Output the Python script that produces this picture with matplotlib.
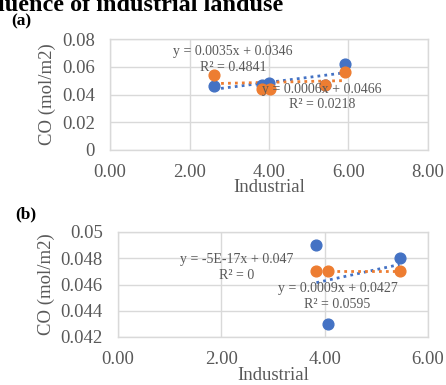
import matplotlib
matplotlib.use("Agg")
import matplotlib.pyplot as plt
import numpy as np

plt.rcParams['font.family'] = ['Liberation Serif', 'DejaVu Serif']

# Panel (a) data
a_blue_x = [2.62, 3.82, 4.00, 5.40, 5.92]
a_blue_y = [0.046, 0.047, 0.048, 0.047, 0.0622]
a_orange_x = [2.62, 3.82, 4.02, 5.40, 5.92]
a_orange_y = [0.054, 0.044, 0.044, 0.047, 0.056]
a_xticks = [0, 2, 4, 6, 8]
a_yticks = [0, 0.02, 0.04, 0.06, 0.08]
a_ytick_labels = ["0", "0.02", "0.04", "0.06", "0.08"]
a_blue_eq = "y = 0.0035x + 0.0346\nR² = 0.4841"
a_orange_eq = "y = 0.0006x + 0.0466\nR² = 0.0218"

# Panel (b) data
b_blue_x = [3.84, 4.07, 5.45]
b_blue_y = [0.049, 0.043, 0.048]
b_orange_x = [3.84, 4.07, 5.45]
b_orange_y = [0.047, 0.047, 0.047]
b_xticks = [0, 2, 4, 6]
b_yticks = [0.042, 0.044, 0.046, 0.048, 0.05]
b_ytick_labels = ["0.042", "0.044", "0.046", "0.048", "0.05"]
b_orange_eq = "y = -5E-17x + 0.047\nR² = 0"
b_blue_eq = "y = 0.0009x + 0.0427\nR² = 0.0595"

BLUE = "#4472C4"
ORANGE = "#ED7D31"
GRID = "#D9D9D9"
TXT = "#595959"

W, H = 446, 385
fig = plt.figure(figsize=(W / 100, H / 100), dpi=100)


def px_axes(l, t, r, b):
    return fig.add_axes([l / W, 1 - b / H, (r - l) / W, (b - t) / H])


def style(ax, xticks, yticks, ylabels):
    ax.set_xticks(xticks)
    ax.set_xticklabels([f"{v:.2f}" for v in xticks])
    ax.set_yticks(yticks)
    ax.set_yticklabels(ylabels)
    ax.set_xlim(xticks[0], xticks[-1])
    ax.set_ylim(yticks[0], yticks[-1])
    ax.grid(True, color=GRID, linewidth=1)
    ax.set_axisbelow(True)
    for s in ax.spines.values():
        s.set_color(GRID)
        s.set_linewidth(1)
    ax.tick_params(axis='y', length=0, labelsize=13.5, colors=TXT, pad=11)
    ax.tick_params(axis='x', length=0, labelsize=13.5, colors=TXT, pad=10)
    ax.set_xlabel("Industrial", fontsize=13.5, color=TXT, labelpad=-1)
    ax.set_ylabel("CO (mol/m2)", fontsize=13.5, color=TXT, labelpad=4)


def trend(ax, x, y, color):
    x = np.asarray(x); y = np.asarray(y)
    m, c = np.polyfit(x, y, 1)
    xs = np.array([x.min(), x.max()])
    ax.plot(xs, m * xs + c, linestyle=(0, (1, 1.5)), color=color, linewidth=2, zorder=2)


# Panel (a)
axa = px_axes(110, 39, 428, 150)
style(axa, a_xticks, a_yticks, a_ytick_labels)
axa.scatter(a_blue_x, a_blue_y, s=60, color=BLUE, zorder=3)
axa.scatter(a_orange_x, a_orange_y, s=60, color=ORANGE, zorder=4)
trend(axa, a_blue_x, a_blue_y, BLUE)
trend(axa, a_orange_x, a_orange_y, ORANGE)
axa.text(3.1, 0.0653, a_blue_eq, ha='center', va='center', fontsize=10, color=TXT,
         linespacing=1.25, zorder=5)
axa.text(5.33, 0.0383, a_orange_eq, ha='center', va='center', fontsize=10, color=TXT,
         linespacing=1.25, zorder=5)

# Panel (b)
axb = px_axes(118, 232, 428, 337)
style(axb, b_xticks, b_yticks, b_ytick_labels)
axb.scatter(b_blue_x, b_blue_y, s=60, color=BLUE, zorder=3)
axb.scatter(b_orange_x, b_orange_y, s=60, color=ORANGE, zorder=4)
trend(axb, b_blue_x, b_blue_y, BLUE)
trend(axb, b_orange_x, b_orange_y, ORANGE)
axb.text(2.3, 0.0473, b_orange_eq, ha='center', va='center', fontsize=10, color=TXT,
         linespacing=1.25, zorder=5)
axb.text(4.25, 0.0451, b_blue_eq, ha='center', va='center', fontsize=10, color=TXT,
         linespacing=1.25, zorder=5)

# Title (partially cut) and panel labels
fig.text(283 / W, 1 - 11 / H, "Influence of industrial landuse", ha='right', va='baseline',
         fontsize=17.5, fontweight='bold', color='black')
fig.text(11 / W, 1 - 21 / H, "(a)", ha='left', va='center', fontsize=12.5, fontweight='bold')
fig.text(15 / W, 1 - 214 / H, "(b)", ha='left', va='center', fontsize=12.5, fontweight='bold')

fig.savefig("out.png", dpi=100)
